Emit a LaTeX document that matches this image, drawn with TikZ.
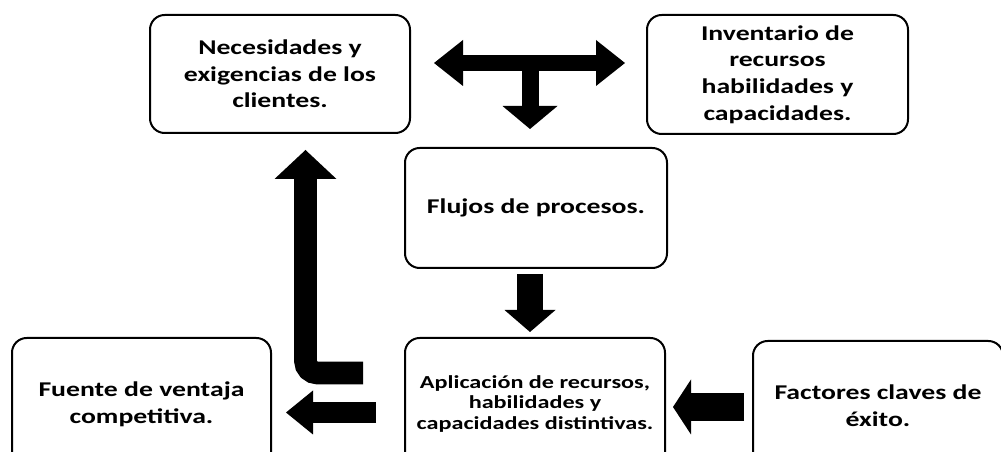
\documentclass[tikz,border=0pt]{standalone}
\usepackage{fontspec}
\setmainfont{Carlito}[FakeStretch=1.32]
\usetikzlibrary{arrows.meta,calc}
\tikzset{
  box/.style={draw=black, line width=1.5pt, rounded corners=11pt, fill=white,
    align=center, inner sep=2pt, font=\fontsize{15.75}{20}\selectfont\bfseries},
  smallbox/.style={box, font=\fontsize{13.75}{15.5}\selectfont\bfseries},
  blk/.style={draw=black, line cap=butt},
}
\begin{document}
\begin{tikzpicture}[x=0.75pt,y=-0.75pt]
\useasboundingbox (0,0) rectangle (1001,452);
\clip (0,0) rectangle (1001,452);
% boxes
\node[box, minimum width=195pt, minimum height=88.5pt] (nec) at (280,74)
  {Necesidades y\\exigencias de los\\clientes.};
\node[box, minimum width=195.75pt, minimum height=89.25pt] (inv) at (777.5,74.5)
  {Inventario de\\recursos\\habilidades y\\capacidades.};
\node[box, minimum width=196.5pt, minimum height=90pt] (flu) at (536,208)
  {Flujos de procesos.};
\node[box, minimum width=194.25pt, minimum height=99pt] (fue) at (141.5,404)
  {Fuente de ventaja\\competitiva.};
\node[smallbox, minimum width=195pt, minimum height=99pt] (apl) at (535,404)
  {Aplicación de recursos,\\habilidades y\\capacidades distintivas.};
\node[box, minimum width=187.5pt, minimum height=97.5pt] (fac) at (878,406)
  {Factores claves de\\éxito.};
% helper coordinates
\coordinate (t) at (530,63);
\coordinate (dx) at (530,300);
\coordinate (lc) at (305.5,373);
\coordinate (la) at (0,412.5);
\coordinate (fa) at (0,407);
% T arrow: double horizontal
\draw[blk, line width=12pt,
  {Triangle[line width=0pt, length=21.75pt, width=34.5pt]}-{Triangle[line width=0pt, length=21.75pt, width=34.5pt]},
  shorten <=17.25pt, shorten >=15.75pt]
  (nec.east |- t) -- (inv.west |- t);
% T arrow: stem down to flujos
\draw[blk, line width=12.75pt, -{Triangle[line width=0pt, length=17.25pt, width=41.25pt]},
  shorten >=13.5pt]
  (t) -- (t |- flu.north);
% flujos -> aplicacion
\draw[blk, line width=19.5pt, -{Triangle[line width=0pt, length=16.5pt, width=38.25pt]},
  shorten <=3.75pt, shorten >=3.75pt]
  (flu.south -| dx) -- (apl.north -| dx);
% aplicacion -> necesidades (L-shaped)
\draw[blk, line width=17pt, rounded corners=9pt,
  -{Triangle[line width=0pt, length=21.75pt, width=46.5pt]},
  shorten <=30.75pt, shorten >=12pt]
  (apl.west |- lc) -- (lc) -- (lc |- nec.south);
% aplicacion -> fuente
\draw[blk, line width=15.75pt, -{Triangle[line width=0pt, length=20.25pt, width=33pt]},
  shorten <=21pt, shorten >=10.5pt]
  (apl.west |- la) -- (fue.east |- la);
% factores -> aplicacion
\draw[blk, line width=21pt, -{Triangle[line width=0pt, length=13.5pt, width=41.25pt]},
  shorten <=6pt, shorten >=5.25pt]
  (fac.west |- fa) -- (apl.east |- fa);
\end{tikzpicture}
\end{document}
